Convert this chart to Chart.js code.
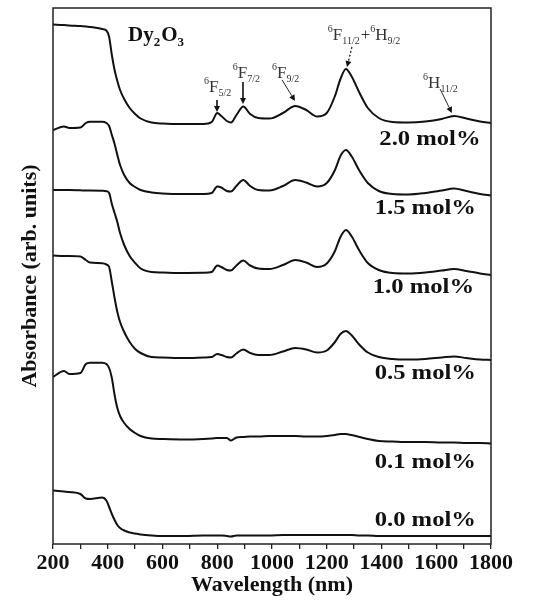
<!DOCTYPE html>
<html><head><meta charset="utf-8">
<script src="https://cdn.jsdelivr.net/npm/chart.js@4.4.1/dist/chart.umd.min.js"></script>
<style>html,body{margin:0;padding:0;background:#fff;}#wrap{width:534px;height:601px;}</style>
</head><body><div id="wrap"><canvas id="c" width="534" height="601"></canvas></div>
<script>
// Wavelength grid (nm)
const wavelengths = [200,240,260,300,320,335,380,395,405,415,425,435,445,460,480,500,520,560,600,680,750,780,800,815,835,850,870,895,920,950,990,1040,1085,1125,1165,1200,1230,1250,1270,1290,1320,1350,1390,1440,1500,1560,1620,1665,1710,1760,1800];

// Series names (Dy2O3 concentration)
const seriesNames = ['2.0 mol%','1.5 mol%','1.0 mol%','0.5 mol%','0.1 mol%','0.0 mol%'];

// Absorbance (arb. units, stacked as in the figure)
const abs20 = [519.5,519,518.5,518,517.5,517,515,513.5,507,489,474,463,454,445,436,430,425.5,421.5,420.5,420,420,422,431,428,423,421.5,429,437.5,430,426,425.5,431,438,434,427.5,431,448,465,475,468,451,436,426,422,421.5,422.5,425,428,425.5,422.5,421];
const abs15 = [414,417.5,416,416.5,421,422.3,422.3,421,418,409,400,389,379,369,361,357,354,351.5,350.5,350,350,351,357.5,356.5,353,352.5,358,364,358,354,353.5,358,364,361.5,357.5,361,374,388,394,388,373,361,353,350,349.5,351,353.5,355.5,353,350,348.5];
const abs10 = [354,354,354,353.7,353.5,353.5,353.2,352.8,351,340,331,322,311,299,288,281,275.5,272,271.5,271,271.2,272,278.5,277,274,273.5,278.5,283.5,278.5,275.5,275,279,284,281.5,277,280.5,293,307,314,308,293,281,274,271,270.5,271.5,273.5,275,273,270.5,269];
const abs05 = [288.5,288,288,287.5,284,281.5,280.7,279.5,277,262,246,232,222,212,202,195,191,187,186.5,186,186.5,187,190,189,187,186.5,190.5,194.5,191,189,189,192.5,196,194.5,191.5,193.5,202,210,213,209,199,191.5,187,185,184.5,185,186.5,187.5,186,184.5,184];
const abs01 = [167,173,170,171,180,181.3,181.3,180,176,166,149,136,128,121,115,111,108,105.5,105,104.5,105,105.5,106,106,106,103.5,106.5,107,107.5,107.5,108,108,108,107.5,107.5,108,109,110,110,109,107,105,103,102.5,102,102,101.5,101.5,101,101,100.5];
const abs00 = [53.5,52.5,52,50,45.5,45,46.5,43.5,37,30,24,19,16,13.5,11.5,10.5,9.5,8.5,8,8,8.5,8.5,8.5,8.5,8,7.5,8.5,8.5,8.5,8.5,8.5,9,9,9,9,9,9,9,9,9,8.5,8.5,8,8,8,8,8,8,8,8,8];

// X tick labels
const xTickLabels = [200,400,600,800,1000,1200,1400,1600,1800];

// Annotation texts (transition assignments)
const transitionTexts = [
  [['6','sup'],['F',''],['5/2','sub']],
  [['6','sup'],['F',''],['7/2','sub']],
  [['6','sup'],['F',''],['9/2','sub']],
  [['6','sup'],['F',''],['11/2','sub'],['+',''],['6','sup'],['H',''],['9/2','sub']],
  [['6','sup'],['H',''],['11/2','sub']]
];
const compoundText = [['Dy',''],['2','sub'],['O',''],['3','sub']];

// ---- layout of annotations (data coordinates) ----
const transitionLayout = [
  {tx:752, ty:452, a:[799,444,799,432], w:1.6, dash:null},
  {tx:857, ty:466, a:[894,462,894,440], w:1.6, dash:null},
  {tx:1000, ty:466, a:[1037,464,1084,443], w:0.9, dash:null},
  {tx:1204, ty:504, a:[1292,497,1274,477], w:1.2, dash:[2,2]},
  {tx:1552, ty:456, a:[1614,455,1657,431], w:0.9, dash:null}
];
const compoundLayout = {tx:474, ty:503};
const nameLayout = [[1392,404.5],[1375,336],[1368,257],[1375,171],[1375,82],[1375,24]];

const SERIF = '"Liberation Serif", "Times New Roman", Times, serif';

function drawRich(ctx, parts, px, py, base, bold, color){
  let cx = px;
  ctx.fillStyle = color;
  ctx.textBaseline = 'alphabetic';
  ctx.textAlign = 'left';
  for (const [t, kind] of parts){
    let size = base, dy = 0;
    if (kind === 'sup'){ size = Math.round(base*0.6); dy = -base*0.45; }
    else if (kind === 'sub'){ size = Math.round(base*0.6); dy = base*0.25; }
    ctx.font = (bold ? 'bold ' : '') + size + 'px ' + SERIF;
    ctx.fillText(t, cx, py + dy);
    cx += ctx.measureText(t).width + (kind==='sub'?1:0);
  }
}
function arrow(ctx, x1, y1, x2, y2, w, dash){
  ctx.save();
  ctx.strokeStyle = '#111'; ctx.fillStyle = '#111';
  ctx.lineWidth = w;
  const ang = Math.atan2(y2-y1, x2-x1), hl = 6, hw = 3;
  const bx = x2 - hl*Math.cos(ang), by = y2 - hl*Math.sin(ang);
  ctx.setLineDash(dash || []);
  ctx.beginPath(); ctx.moveTo(x1,y1); ctx.lineTo(bx,by); ctx.stroke();
  ctx.setLineDash([]);
  ctx.beginPath(); ctx.moveTo(x2,y2);
  ctx.lineTo(bx - hw*Math.sin(ang), by + hw*Math.cos(ang));
  ctx.lineTo(bx + hw*Math.sin(ang), by - hw*Math.cos(ang));
  ctx.closePath(); ctx.fill();
  ctx.restore();
}

const decor = {
  id: 'decor',
  afterDraw(chart){
    const {ctx, chartArea: a, scales: {x, y}} = chart;
    ctx.save();
    ctx.strokeStyle = '#222'; ctx.lineWidth = 1.5;
    ctx.strokeRect(a.left, a.top, a.right - a.left, a.bottom - a.top);
    // series names
    ctx.fillStyle = '#111';
    ctx.font = 'bold 22px ' + SERIF;
    ctx.textBaseline = 'middle'; ctx.textAlign = 'left';
    seriesNames.forEach((n, i) => {
      const px = x.getPixelForValue(nameLayout[i][0]);
      const py = y.getPixelForValue(nameLayout[i][1]);
      ctx.save(); ctx.translate(px, py); ctx.scale(1.12, 1); ctx.fillText(n, 0, 0); ctx.restore();
    });
    // compound
    drawRich(ctx, compoundText, x.getPixelForValue(compoundLayout.tx), y.getPixelForValue(compoundLayout.ty), 21, true, '#111');
    // transitions
    transitionTexts.forEach((parts, i) => {
      const L = transitionLayout[i];
      drawRich(ctx, parts, x.getPixelForValue(L.tx), y.getPixelForValue(L.ty), 17, false, '#333');
      arrow(ctx, x.getPixelForValue(L.a[0]), y.getPixelForValue(L.a[1]), x.getPixelForValue(L.a[2]), y.getPixelForValue(L.a[3]), L.w, L.dash);
    });
    ctx.restore();
  }
};

const allSeries = [abs20, abs15, abs10, abs05, abs01, abs00];
const datasets = allSeries.map((vals, i) => ({
  label: seriesNames[i],
  data: wavelengths.map((w, j) => ({x: w, y: vals[j]})),
  borderColor: '#111',
  borderWidth: 2,
  pointRadius: 0,
  fill: false,
  cubicInterpolationMode: 'monotone'
}));

new Chart(document.getElementById('c'), {
  type: 'line',
  data: { datasets },
  options: {
    responsive: false,
    animation: false,
    devicePixelRatio: 1,
    layout: { padding: { top: 8, right: 43, left: 0, bottom: 0 } },
    plugins: { legend: { display: false }, tooltip: { enabled: false } },
    scales: {
      x: {
        type: 'linear', min: 200, max: 1800,
        afterFit: s => { s.height = 57; },
        border: { display: false },
        grid: { display: true, drawOnChartArea: false, drawTicks: true, tickLength: 5, color: '#222', lineWidth: 1.3 },
        ticks: {
          stepSize: 100, autoSkip: false, maxRotation: 0, padding: 1, color: '#111',
          font: { family: SERIF, size: 22, weight: 'bold' },
          callback: v => xTickLabels.includes(v) ? String(v) : ''
        },
        title: { display: true, text: 'Wavelength (nm)', color: '#111', padding: { top: 0, bottom: 2 },
          font: { family: SERIF, size: 22, weight: 'bold' } }
      },
      y: {
        type: 'linear', min: 0, max: 536,
        afterFit: s => { s.width = 53; },
        border: { display: false },
        grid: { display: false },
        ticks: { display: false },
        title: { display: true, text: 'Absorbance (arb. units)', color: '#111', padding: { top: 17, bottom: 0 },
          font: { family: SERIF, size: 22, weight: 'bold' } }
      }
    }
  },
  plugins: [decor]
});
</script>
</body></html>
